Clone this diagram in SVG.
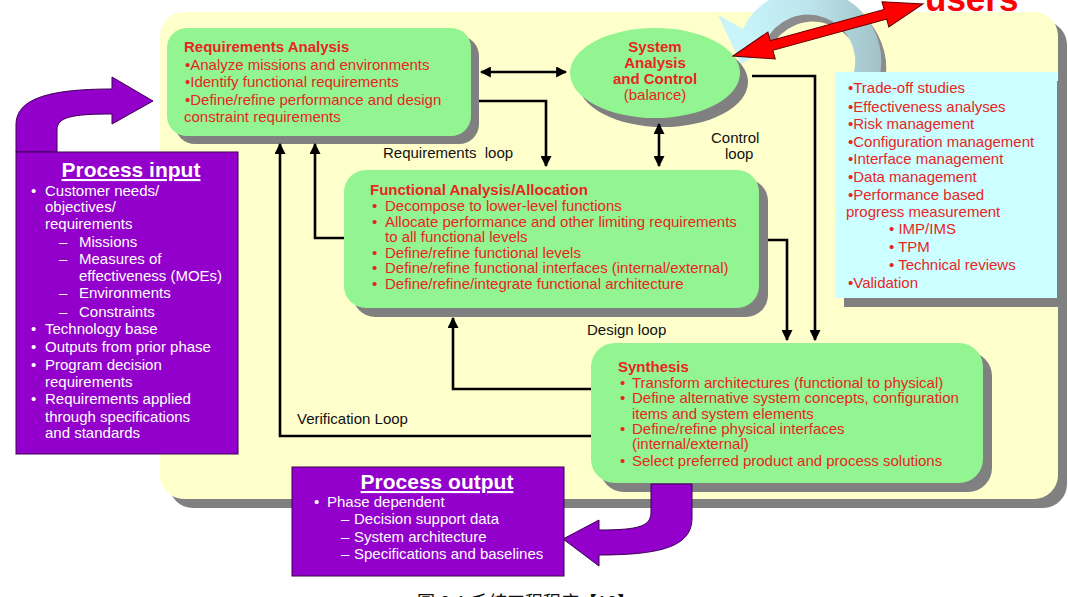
<svg xmlns="http://www.w3.org/2000/svg" width="1068" height="597" viewBox="0 0 1068 597">
<defs>
<style>
.t{font-family:"Liberation Sans",Arial,sans-serif;font-size:15px;fill:#E8251F}
.ts{font-family:"Liberation Sans",Arial,sans-serif;font-size:15px;fill:#E8251F}
.b{font-weight:bold}
.w{font-family:"Liberation Sans",Arial,sans-serif;font-size:15px;fill:#FFFFFF}
.k{font-family:"Liberation Sans",Arial,sans-serif;font-size:15px;fill:#111111}
.sh{fill:#808080}
.gr{fill:#92F592}
.pu{fill:#9300CB;stroke:#3A0050;stroke-width:1}
.cn{fill:none;stroke:#000;stroke-width:2.6}
</style>
<marker id="ah" viewBox="0 0 10 10" refX="9" refY="5" markerWidth="11" markerHeight="11" markerUnits="userSpaceOnUse" orient="auto-start-reverse">
<path d="M0,0 L10,5 L0,10 Z" fill="#000"/>
</marker>
<linearGradient id="ring" gradientUnits="userSpaceOnUse" x1="740" y1="0" x2="880" y2="0">
<stop offset="0" stop-color="#C8F4FA"/>
<stop offset="0.5" stop-color="#BCE4EC"/>
<stop offset="1" stop-color="#A2C2C8"/>
</linearGradient>
</defs>

<g id="panel">
<rect x="169" y="21" width="898" height="487" rx="24" class="sh"/>
<rect x="160" y="12" width="898" height="487" rx="24" fill="#FFFFCC"/>
</g>

<g id="cycle">
<g transform="translate(5,7)">
<path d="M753.6,36.6 A60,60 0 0 1 866,77.5" fill="none" stroke="#8C8C8C" stroke-width="26"/>
</g>
<path d="M753.6,36.6 A60,60 0 0 1 866,77.5" fill="none" stroke="url(#ring)" stroke-width="26"/>
<polygon points="775.4,46.8 718,15 740.9,63.8" fill="#C8F4FA"/>
</g>

<g id="req">
<rect x="175" y="36" width="304" height="108" rx="20" class="sh"/>
<rect x="167" y="28" width="304" height="108" rx="20" class="gr"/>
<text class="t b" x="184" y="52">Requirements Analysis</text>
<text class="t" x="185" y="70">•Analyze missions and environments</text>
<text class="t" x="185" y="87">•Identify functional requirements</text>
<text class="t" x="185" y="105">•Define/refine performance and design</text>
<text class="t" x="184" y="122">constraint requirements</text>
</g>

<g id="sac">
<ellipse cx="663" cy="82" rx="85" ry="45" class="sh"/>
<ellipse cx="655" cy="73" rx="85" ry="45" class="gr"/>
<text class="t b" x="655" y="52" text-anchor="middle">System</text>
<text class="t b" x="655" y="68" text-anchor="middle">Analysis</text>
<text class="t b" x="655" y="84" text-anchor="middle">and Control</text>
<text class="t" x="655" y="100" text-anchor="middle">(balance)</text>
</g>

<g id="tools">
<rect x="844" y="81" width="222" height="226" class="sh"/>
<rect x="835" y="72" width="222" height="226" fill="#CCFFFF"/>
<text class="t" x="848" y="93">•Trade-off studies</text>
<text class="t" x="848" y="112">•Effectiveness analyses</text>
<text class="t" x="848" y="129">•Risk management</text>
<text class="t" x="848" y="147">•Configuration management</text>
<text class="t" x="848" y="164">•Interface management</text>
<text class="t" x="848" y="182">•Data management</text>
<text class="t" x="848" y="200">•Performance based</text>
<text class="t" x="846" y="217">progress measurement</text>
<text class="t" x="889" y="234">•  IMP/IMS</text>
<text class="t" x="889" y="252">•  TPM</text>
<text class="t" x="889" y="270">•  Technical reviews</text>
<text class="t" x="848" y="288">•Validation</text>
</g>

<g id="users">
<g transform="translate(733,56) rotate(-15.3)">
<polygon points="0,0 40,-14 40,-5 158,-5 158,-13 197,0 158,13 158,5 40,5 40,14" fill="#FF0000" stroke="#600000" stroke-width="1"/>
</g>
<text x="925" y="11" font-family="Liberation Sans, Arial, sans-serif" font-size="35" font-weight="bold" fill="#FF0000">users</text>
</g>

<g id="func">
<rect x="353" y="179" width="415" height="138" rx="22" class="sh"/>
<rect x="344" y="170" width="415" height="138" rx="22" class="gr"/>
<text class="ts b" x="370" y="195">Functional Analysis/Allocation</text>
<text class="ts" x="372" y="211">•</text><text class="ts" x="385" y="211">Decompose to lower-level functions</text>
<text class="ts" x="372" y="227">•</text><text class="ts" x="385" y="227">Allocate performance and other limiting requirements</text>
<text class="ts" x="385" y="242">to all functional levels</text>
<text class="ts" x="372" y="258">•</text><text class="ts" x="385" y="258">Define/refine functional levels</text>
<text class="ts" x="372" y="273">•</text><text class="ts" x="385" y="273">Define/refine functional interfaces (internal/external)</text>
<text class="ts" x="372" y="289">•</text><text class="ts" x="385" y="289">Define/refine/integrate functional architecture</text>
</g>

<g id="synth">
<rect x="600" y="352" width="392" height="140" rx="24" class="sh"/>
<rect x="591" y="343" width="392" height="140" rx="24" class="gr"/>
<text class="ts b" x="618" y="372">Synthesis</text>
<text class="ts" x="620" y="388">•</text><text class="ts" x="632" y="388">Transform architectures (functional to physical)</text>
<text class="ts" x="620" y="403">•</text><text class="ts" x="632" y="403">Define alternative system concepts, configuration</text>
<text class="ts" x="632" y="419">items and system elements</text>
<text class="ts" x="620" y="434">•</text><text class="ts" x="632" y="434">Define/refine physical interfaces</text>
<text class="ts" x="632" y="449">(internal/external)</text>
<text class="ts" x="620" y="466">•</text><text class="ts" x="632" y="466">Select preferred product and process solutions</text>
</g>

<g id="connectors">
<path class="cn" d="M481,72 H566" marker-start="url(#ah)" marker-end="url(#ah)"/>
<path class="cn" d="M479,101 H546 V166" marker-end="url(#ah)"/>
<path class="cn" d="M659,124 V166" marker-start="url(#ah)" marker-end="url(#ah)"/>
<path class="cn" d="M752,76 H815 V340" marker-end="url(#ah)"/>
<path class="cn" d="M768,240 H787 V340" marker-end="url(#ah)"/>
<path class="cn" d="M344,238 H315 V144" marker-end="url(#ah)"/>
<path class="cn" d="M591,389 H453 V318" marker-end="url(#ah)"/>
<path class="cn" d="M591,436 H280 V144" marker-end="url(#ah)"/>
<text class="k" x="383" y="158" xml:space="preserve">Requirements  loop</text>
<text class="k" x="711" y="143">Control</text>
<text class="k" x="725" y="159">loop</text>
<text class="k" x="587" y="335">Design loop</text>
<text class="k" x="297" y="424">Verification Loop</text>
</g>

<g id="input">
<path class="pu" d="M16,152 L16,125 C16,100 45,89 112,89 L112,77 L153,101 L112,124 L112,114 C72,114 57,117 57,130 L57,152 Z"/>
<rect x="16" y="152" width="222" height="302" class="pu"/>
<text x="131" y="177" text-anchor="middle" font-family="Liberation Sans, Arial, sans-serif" font-size="21" font-weight="bold" fill="#FFFFFF" text-decoration="underline">Process input</text>
<text class="w" x="31" y="196">•</text><text class="w" x="45" y="196">Customer needs/</text>
<text class="w" x="45" y="212">objectives/</text>
<text class="w" x="45" y="229">requirements</text>
<text class="w" x="59" y="247">–</text><text class="w" x="79" y="247">Missions</text>
<text class="w" x="59" y="264">–</text><text class="w" x="79" y="264">Measures of</text>
<text class="w" x="79" y="281">effectiveness (MOEs)</text>
<text class="w" x="59" y="298">–</text><text class="w" x="79" y="298">Environments</text>
<text class="w" x="59" y="317">–</text><text class="w" x="79" y="317">Constraints</text>
<text class="w" x="31" y="334">•</text><text class="w" x="45" y="334">Technology base</text>
<text class="w" x="31" y="352">•</text><text class="w" x="45" y="352">Outputs from prior phase</text>
<text class="w" x="31" y="370">•</text><text class="w" x="45" y="370">Program decision</text>
<text class="w" x="45" y="387">requirements</text>
<text class="w" x="31" y="404">•</text><text class="w" x="45" y="404">Requirements applied</text>
<text class="w" x="45" y="422">through specifications</text>
<text class="w" x="45" y="438">and standards</text>
</g>

<g id="output">
<path class="pu" d="M651,484 L692,484 L692,518 C692,545 665,555 599,555 L599,566 L563,539 L599,520 L599,530 C640,530 651,526 651,512 Z"/>
<rect x="292" y="467" width="272" height="109" class="pu"/>
<text x="437" y="489" text-anchor="middle" font-family="Liberation Sans, Arial, sans-serif" font-size="21" font-weight="bold" fill="#FFFFFF" text-decoration="underline">Process output</text>
<text class="w" x="314" y="507">•</text><text class="w" x="327" y="507">Phase dependent</text>
<text class="w" x="341" y="524">–</text><text class="w" x="354" y="524">Decision support data</text>
<text class="w" x="341" y="542">–</text><text class="w" x="354" y="542">System architecture</text>
<text class="w" x="341" y="559">–</text><text class="w" x="354" y="559">Specifications and baselines</text>
</g>

<text x="417" y="609" font-family="Liberation Sans, 'Noto Sans CJK TC', sans-serif" font-size="18" fill="#111111">圖 2-1 系統工程程序【13】</text>
</svg>
